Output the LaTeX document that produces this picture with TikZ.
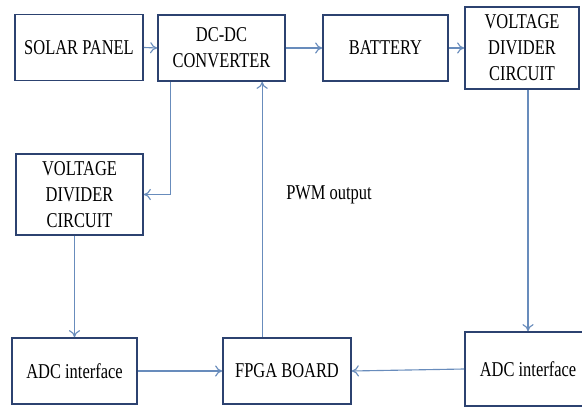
\documentclass[tikz,border=0pt]{standalone}
\usepackage{fontspec}
\setmainfont[FakeStretch=0.78]{Liberation Serif}
\usetikzlibrary{arrows.meta}
\definecolor{boxblue}{RGB}{44,66,112}
\definecolor{linkblue}{RGB}{104,140,188}
\tikzset{
  block/.style={draw=boxblue, line width=1.2pt, fill=white, align=center,
    inner sep=2pt, font=\fontsize{15}{18.5}\selectfont},
  link/.style={draw=linkblue, line width=0.8pt, -{To[length=5pt,width=8pt]}}
}
\begin{document}
\begin{tikzpicture}[x=0.025cm, y=-0.025cm]
    % Rahmen wie im Original, rechter ADC-Block läuft über den Rand hinaus.
    \clip (0,0) rectangle (582,406);
    \fill[white] (0,0) rectangle (582,406);
    \node[block, minimum width=3.2cm, minimum height=1.65cm] (solar) at (79,47.5) {SOLAR PANEL};
    \node[block, minimum width=3.175cm, minimum height=1.65cm] (dcdc) at (221.5,48) {DC-DC\\CONVERTER};
    \node[block, minimum width=3.125cm, minimum height=1.65cm] (battery) at (385.5,48) {BATTERY};
    \node[block, minimum width=2.85cm, minimum height=2.05cm] (vdR) at (522,48) {VOLTAGE\\DIVIDER\\CIRCUIT};
    \node[block, minimum width=3.175cm, minimum height=2.025cm] (vdL) at (79.5,194.5) {VOLTAGE\\DIVIDER\\CIRCUIT};
    \node[block, minimum width=3.125cm, minimum height=1.65cm] (adcL) at (74.5,371) {ADC interface};
    \node[block, minimum width=3.2cm, minimum height=1.65cm] (fpga) at (287,371) {FPGA BOARD};
    \node[block, minimum width=3.15cm, minimum height=1.85cm] (adcR) at (528,369) {ADC interface};
    \node[anchor=west, inner sep=0pt, font=\fontsize{15}{16}\selectfont] (pwm) at (286,195) {PWM output};
    % Verbindungen
    \draw[link] (solar.east) -- (dcdc.west);
    \draw[link] (dcdc.east) -- (battery.west);
    \draw[link] (battery.east) -- (vdR.west);
    \draw[link] ([xshift=0.325cm]dcdc.south west) |- (vdL.east);
    \draw[link] (adcL.north |- vdL.south) -- (adcL.north);
    \draw[link] (adcR.north |- vdR.south) -- (adcR.north);
    \draw[link] (adcL.east) -- (fpga.west);
    \draw[link] (adcR.west) -- (fpga.east);
    \draw[link] ([xshift=1cm]fpga.north west) coordinate (up) -- (up |- dcdc.south);
\end{tikzpicture}
\end{document}
